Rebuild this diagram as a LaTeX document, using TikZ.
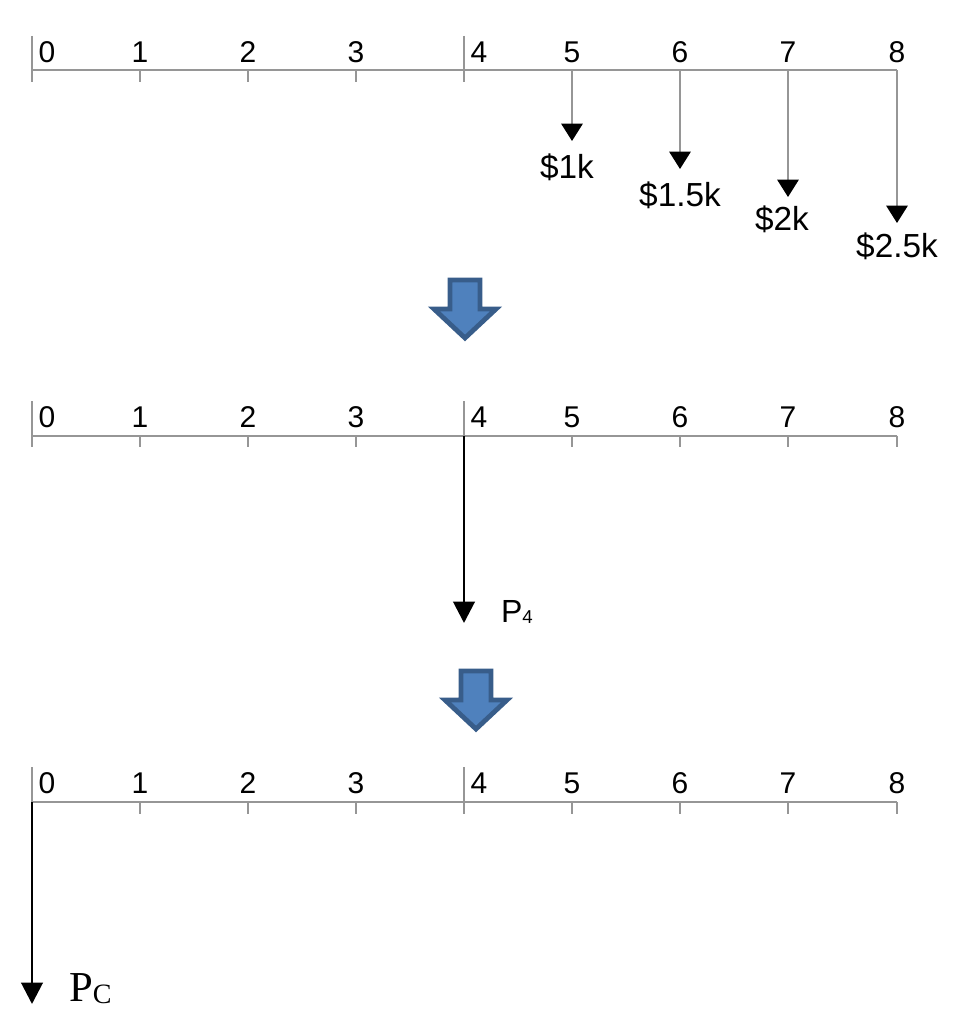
\documentclass[tikz,border=0pt]{standalone}
\usepackage{fontspec}
\setmainfont{Liberation Sans}
\newfontfamily\timesfont{Liberation Serif}
\usetikzlibrary{arrows.meta, positioning}
\definecolor{axisgray}{RGB}{150,150,150}
\definecolor{blockfill}{RGB}{79,129,189}
\definecolor{blockdraw}{RGB}{56,93,138}
\tikzstyle{axisline} = [draw=axisgray, line width=1.5pt]
\tikzstyle{ticklabel} = [font=\fontsize{22.5}{22.5}\selectfont, inner sep=0pt]
\tikzstyle{cashlabel} = [font=\fontsize{25}{25}\selectfont, inner sep=0pt, anchor=north]
\tikzstyle{blockarrow} = [fill=blockfill, draw=blockdraw, line width=3.6pt, line join=miter]
\tikzset{
  cashflow/.style={
    draw=axisgray, line width=1.5pt,
    -{Triangle[color=black,length=13pt,width=16pt]}
  },
  present/.style={
    draw=black, line width=2.2pt,
    -{Triangle[length=16pt,width=16pt]}
  }
}

\begin{document}
\begin{tikzpicture}[x=0.75pt, y=-0.75pt]
\useasboundingbox (0,0) rectangle (956,1024);

% ------------------------------------------------
% EJE 1 – flujos de caja en 5, 6, 7, 8
% ------------------------------------------------

\coordinate (a0) at (32,70.5);
\coordinate (a8) at (897,70.5);
\draw[axisline] (a0) -- (a8);
\draw[axisline] (32,36) -- (32,82);
\draw[axisline] (464,36) -- (464,82);
\foreach \i in {1,2,3,5,6,7} {
  \draw[axisline] (32+108*\i,70.5) -- (32+108*\i,82);
  \node[ticklabel] at (32+108*\i,52) {\i};
}
\draw[axisline] (897,70.5) -- (897,82);
\node[ticklabel] at (897,52) {8};
\node[ticklabel] at (47,52) {0};
\node[ticklabel] at (479,52) {4};

\node[cashlabel] (c5) at (567,154) {\$1k};
\node[cashlabel] (c6) at (680,182) {\$1.5k};
\node[cashlabel] (c7) at (782,206) {\$2k};
\node[cashlabel] (c8) at (897,233) {\$2.5k};

\draw[cashflow] (572,70.5) -- (572,141);
\draw[cashflow] (680,70.5) -- (680,169);
\draw[cashflow] (788,70.5) -- (788,197);
\draw[cashflow] (897,70.5) -- (897,223);

% ------------------------------------------------
% FLECHA DE BLOQUE 1
% ------------------------------------------------

\draw[blockarrow] (450,280) -- (480,280) -- (480,309) -- (496,309)
  -- (465,338) -- (434,309) -- (450,309) -- cycle;

% ------------------------------------------------
% EJE 2 – valor equivalente P4
% ------------------------------------------------

\coordinate (b0) at (32,435.5);
\coordinate (b4) at (464,435.5);
\coordinate (b8) at (897,435.5);
\draw[axisline] (b0) -- (b8);
\draw[axisline] (32,401) -- (32,447);
\draw[axisline] (464,401) -- (464,447);
\foreach \i in {1,2,3,5,6,7} {
  \draw[axisline] (32+108*\i,435.5) -- (32+108*\i,447);
  \node[ticklabel] at (32+108*\i,417) {\i};
}
\draw[axisline] (897,435.5) -- (897,447);
\node[ticklabel] at (897,417) {8};
\node[ticklabel] at (47,417) {0};
\node[ticklabel] at (479,417) {4};

\node[font=\fontsize{24}{24}\selectfont, inner sep=0pt] (p4) at (517,612)
  {P\raisebox{-1pt}{\fontsize{14}{14}\selectfont 4}};
\coordinate (p4end) at (464,623);
\draw[present] (b4) -- (p4end);

% ------------------------------------------------
% FLECHA DE BLOQUE 2
% ------------------------------------------------

\draw[blockarrow, shift={(11,391)}] (450,280) -- (480,280) -- (480,309)
  -- (496,309) -- (465,338) -- (434,309) -- (450,309) -- cycle;

% ------------------------------------------------
% EJE 3 – valor presente Pc
% ------------------------------------------------

\coordinate (d0) at (32,802);
\coordinate (d8) at (897,802);
\draw[axisline] (d0) -- (d8);
\draw[axisline] (32,767) -- (32,814);
\draw[axisline] (464,767) -- (464,814);
\foreach \i in {1,2,3,5,6,7} {
  \draw[axisline] (32+108*\i,802) -- (32+108*\i,814);
  \node[ticklabel] at (32+108*\i,783) {\i};
}
\draw[axisline] (897,802) -- (897,814);
\node[ticklabel] at (897,783) {8};
\node[ticklabel] at (47,783) {0};
\node[ticklabel] at (479,783) {4};

\node[font=\timesfont\fontsize{32}{32}\selectfont, inner sep=0pt, anchor=base west]
  (pc) at (69,1001) {P\raisebox{-2pt}{\fontsize{21}{21}\selectfont C}};
\coordinate (pcend) at (32,1004);
\draw[present] (d0) -- (pcend);

\end{tikzpicture}
\end{document}
